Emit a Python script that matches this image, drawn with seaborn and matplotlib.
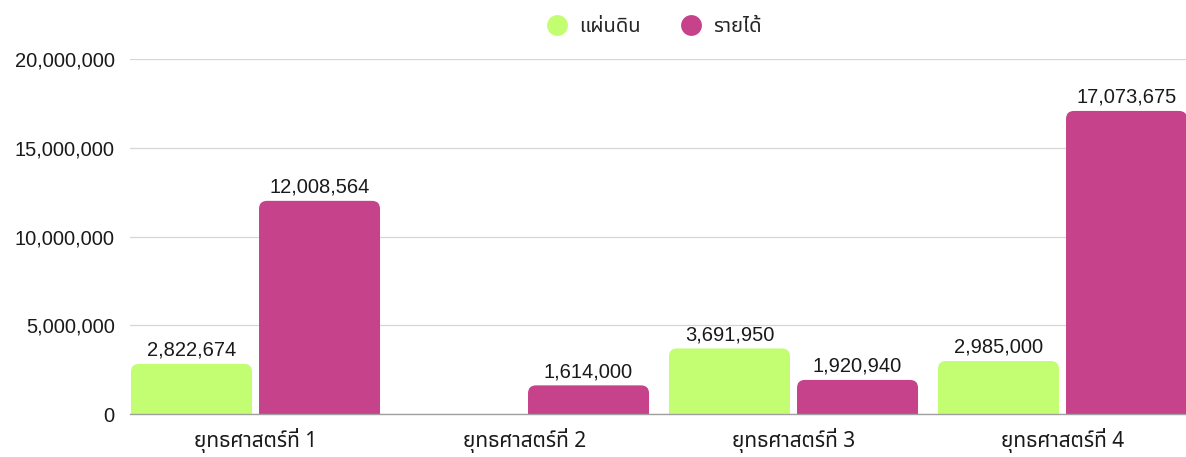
import pandas as pd
import seaborn as sns
import matplotlib.pyplot as plt
from matplotlib import font_manager
from matplotlib.patches import FancyBboxPatch
from matplotlib.lines import Line2D
from matplotlib.ticker import FuncFormatter

strategies = ['ยุทธศาสตร์ที่ 1', 'ยุทธศาสตร์ที่ 2', 'ยุทธศาสตร์ที่ 3', 'ยุทธศาสตร์ที่ 4']
series_names = ['แผ่นดิน', 'รายได้']
budget_land = [2822674, 0, 3691950, 2985000]
budget_income = [12008564, 1614000, 1920940, 17073675]
colors = ['#C2FD72', '#C6428A']
y_ticks = [0, 5000000, 10000000, 15000000, 20000000]


def find_thai_font():
    # look for an installed family that actually has Thai glyphs,
    # loopless Noto first since the original uses a modern loopless face
    try:
        from fontTools.ttLib import TTFont
    except ImportError:
        return None
    names = []
    for f in font_manager.fontManager.ttflist:
        try:
            tt = TTFont(f.fname, fontNumber=0, lazy=True)
            cmap = tt.getBestCmap() or {}
        except Exception:
            continue
        if 0x0E22 in cmap and 0x0E38 in cmap:
            names.append(f.name)
    for want in ['Noto Sans Thai', 'Noto Sans Thai UI', 'Kanit', 'Prompt', 'Sarabun']:
        if want in names:
            return want
    rest = [n for n in names if 'Looped' not in n]
    if rest:
        return rest[0]
    return names[0] if names else None


df = pd.DataFrame({
    'strategy': strategies * 2,
    'series': [series_names[0]] * 4 + [series_names[1]] * 4,
    'value': budget_land + budget_income,
})

sns.set_theme(style='white')
thai = find_thai_font()
thai_families = ([thai] if thai else []) + ['DejaVu Sans']
num_families = ['Liberation Sans', 'DejaVu Sans']
plt.rcParams['font.family'] = thai_families

W, H = 1186, 457
fig = plt.figure(figsize=(W / 100, H / 100), dpi=100)
ax_left, ax_right, ax_top, ax_bottom = 130, 1190, 59, 414
ax = fig.add_axes([ax_left / W, (H - ax_bottom) / H,
                   (ax_right - ax_left) / W, (ax_bottom - ax_top) / H])

sns.barplot(data=df, x='strategy', y='value', hue='series', palette=colors,
            width=0.952, gap=0.055, ax=ax, legend=False, saturation=1)

px_per_x = 269.0
xl = -(255.5 - ax_left) / px_per_x
xr = 3 + (ax_right - (255.5 + 3 * px_per_x)) / px_per_x
ax.set_xlim(xl, xr)
ax.set_ylim(0, 20000000)

# swap the plain bars for bars with rounded tops
units_per_px_y = 20000000 / (ax_bottom - ax_top)
r_px = 8
r_x = r_px / px_per_x
aspect = (r_px * units_per_px_y) / r_x
bars = list(ax.patches)
for p in bars:
    x, w, h = p.get_x(), p.get_width(), p.get_height()
    c = p.get_facecolor()
    p.remove()
    if h <= 0:
        continue
    ext = r_px * units_per_px_y
    rb = FancyBboxPatch((x, -ext), w, h + ext,
                        boxstyle=f'round,pad=0,rounding_size={r_x}',
                        mutation_aspect=aspect, facecolor=c, edgecolor='none',
                        zorder=2)
    ax.add_patch(rb)
    ax.annotate(f'{h:,.0f}', (x + w / 2, h), xytext=(0, 3), textcoords='offset points',
                ha='center', va='bottom', fontsize=14.5, color='#1a1a1a',
                family=num_families)

ax.set_yticks(y_ticks)
ax.yaxis.set_major_formatter(FuncFormatter(lambda v, pos: f'{v:,.0f}'))
ax.grid(axis='y', color='#d6d6d6', linewidth=0.9, zorder=0)
ax.set_axisbelow(True)
for s in ['top', 'right', 'left']:
    ax.spines[s].set_visible(False)
ax.spines['bottom'].set_color('#a0a0a0')
ax.spines['bottom'].set_linewidth(1.0)
ax.spines['bottom'].set_zorder(3)
ax.tick_params(axis='y', length=0, pad=11, labelsize=14.5, labelcolor='#1a1a1a')
ax.tick_params(axis='x', length=0, pad=10, labelsize=15, labelcolor='#1a1a1a')
for t in ax.get_yticklabels():
    t.set_family(num_families)
ax.set(xlabel='', ylabel='')

handles = [Line2D([0], [0], marker='o', linestyle='none', markersize=15,
                  markerfacecolor=c, markeredgecolor='none') for c in colors]
ax.legend(handles, series_names, loc='lower center', bbox_to_anchor=(0.49, 1.038),
          ncol=2, frameon=False, fontsize=14.5, handletextpad=0.1,
          columnspacing=1.5, borderaxespad=0)

fig.savefig('out.png', dpi=100)
